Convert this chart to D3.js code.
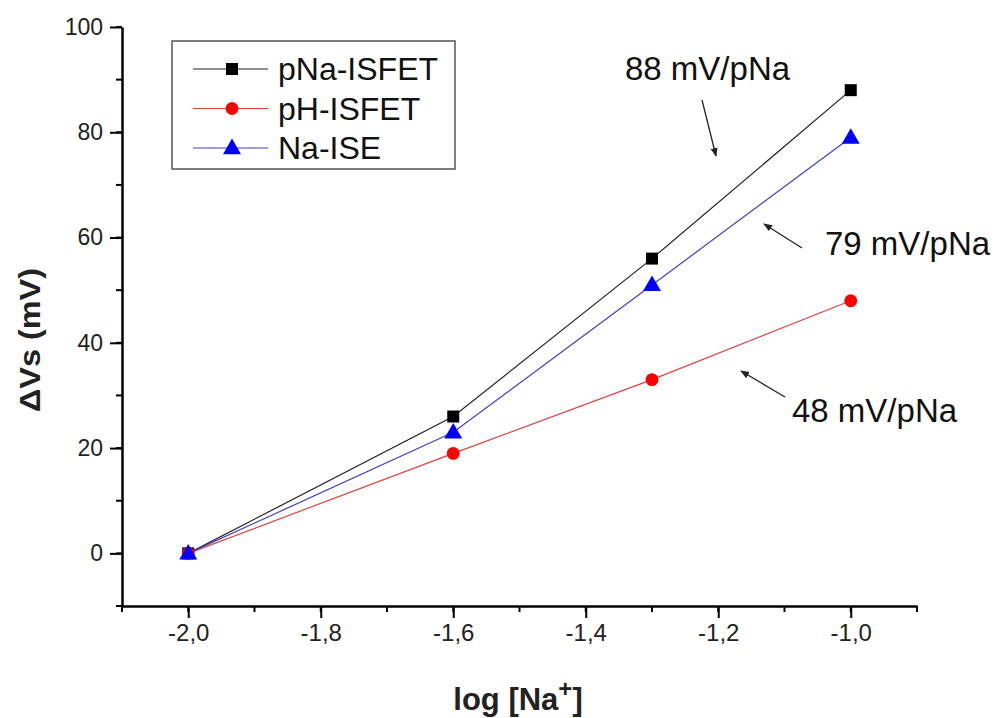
<!DOCTYPE html>
<html><head><meta charset="utf-8">
<script src="https://cdn.jsdelivr.net/npm/d3@7"></script>
<style>body{margin:0;background:#fff;} svg{display:block;font-family:"Liberation Sans",Arial,sans-serif;}</style>
</head><body>
<script>
const xValues = [-2.0, -1.6, -1.3, -1.0];
const seriesNames = ["pNa-ISFET", "pH-ISFET", "Na-ISE"];
const pNaISFET = [0, 26, 56, 88];
const pHISFET = [0, 19, 33, 48];
const NaISE = [0, 23, 51, 79];
const seriesColors = ["#000000", "#ff0000", "#0000ff"];
const lineColors = ["#222222", "#e04040", "#4040c0"];
const markerTypes = ["square", "circle", "triangle"];
const xTicks = [-2.0, -1.8, -1.6, -1.4, -1.2, -1.0];
const yTicks = [0, 20, 40, 60, 80, 100];
const annotations = [
  {text: "88 mV/pNa", x: 625, y: 80, ax1: 702, ay1: 100, ax2: 716, ay2: 156},
  {text: "79 mV/pNa", x: 825, y: 255, ax1: 802, ay1: 248, ax2: 764, ay2: 224},
  {text: "48 mV/pNa", x: 792, y: 422, ax1: 785, ay1: 397, ax2: 741, ay2: 371}
];

const W = 995, H = 718;
const svg = d3.select("body").append("svg").attr("width", W).attr("height", H);
const x = d3.scaleLinear().domain([-2.1, -0.9]).range([122, 917]);
const y = d3.scaleLinear().domain([-10, 100]).range([606, 27]);

const fmt = d => d3.format(".1f")(d).replace(".", ",").replace("−", "-");

// minor ticks
const xMinor = d3.range(-2.1, -0.89, 0.1);
const yMinor = d3.range(-10, 101, 10);
const axisG = svg.append("g");
axisG.selectAll(".xm").data(xMinor).enter().append("line")
  .attr("x1", d => x(d)).attr("x2", d => x(d)).attr("y1", 606).attr("y2", 612)
  .attr("stroke", "#000").attr("stroke-width", 2);
axisG.selectAll(".ym").data(yMinor).enter().append("line")
  .attr("x1", 116).attr("x2", 122).attr("y1", d => y(d)).attr("y2", d => y(d))
  .attr("stroke", "#000").attr("stroke-width", 2);

const xAxis = d3.axisBottom(x).tickValues(xTicks).tickSize(12).tickSizeOuter(0).tickPadding(6).tickFormat(fmt);
const gx = svg.append("g").attr("transform", "translate(0,606)").call(xAxis);
gx.attr("font-size", null).attr("font-family", null);
gx.select(".domain").attr("stroke-width", 2.5);
gx.selectAll(".tick line").attr("stroke-width", 2);
gx.selectAll("text").style("font-size", "24px").style("font-family", "'Liberation Sans', Arial, sans-serif").attr("fill", "#222");

const yAxis = d3.axisLeft(y).tickValues(yTicks).tickSize(12).tickSizeOuter(0).tickPadding(7);
const gy = svg.append("g").attr("transform", "translate(122,0)").call(yAxis);
gy.attr("font-size", null).attr("font-family", null);
gy.select(".domain").attr("stroke-width", 2.5);
gy.selectAll(".tick line").attr("stroke-width", 2);
gy.selectAll("text").style("font-size", "23px").style("font-family", "'Liberation Sans', Arial, sans-serif").attr("fill", "#222");

// titles
svg.append("text").attr("transform", "translate(40,340) rotate(-90)")
  .attr("text-anchor", "middle").attr("font-weight", "bold").attr("font-size", 30).attr("fill", "#222")
  .attr("textLength", 144).attr("lengthAdjust", "spacingAndGlyphs")
  .text("ΔVs (mV)");
const xt = svg.append("text").attr("x", 518).attr("y", 710).attr("text-anchor", "middle")
  .attr("font-weight", "bold").attr("font-size", 31).attr("fill", "#222");
xt.append("tspan").text("log [Na");
xt.append("tspan").attr("dy", -13).attr("font-size", 24).text("+");
xt.append("tspan").attr("dy", 13).text("]");

const allSeries = [pNaISFET, pHISFET, NaISE];
const symbolOf = {square: d3.symbolSquare, circle: d3.symbolCircle, triangle: d3.symbolTriangle};
const sizeOf = {square: 144, circle: 130, triangle: 140};

function marker(g, type, color, cx, cy) {
  g.append("path").attr("d", d3.symbol().type(symbolOf[type]).size(sizeOf[type])())
    .attr("transform", `translate(${cx},${cy + (type === "triangle" ? 1 : 0)})`).attr("fill", color);
}

const line = d3.line().x((d, i) => x(xValues[i])).y(d => y(d));
allSeries.forEach((vals, si) => {
  svg.append("path").datum(vals).attr("d", line).attr("fill", "none")
    .attr("stroke", lineColors[si]).attr("stroke-width", 1.2);
});
allSeries.forEach((vals, si) => {
  const g = svg.append("g");
  vals.forEach((v, i) => marker(g, markerTypes[si], seriesColors[si], x(xValues[i]), y(v)));
});

// legend
const lg = svg.append("g");
lg.append("rect").attr("x", 172).attr("y", 41).attr("width", 283).attr("height", 128)
  .attr("fill", "#fff").attr("stroke", "#555").attr("stroke-width", 1.5);
seriesNames.forEach((name, i) => {
  const ly = 69 + i * 39.5;
  lg.append("line").attr("x1", 193).attr("x2", 268).attr("y1", ly).attr("y2", ly)
    .attr("stroke", lineColors[i]).attr("stroke-width", 1.2);
  marker(lg, markerTypes[i], seriesColors[i], 232, ly);
  lg.append("text").attr("x", 278).attr("y", ly + 11).attr("font-size", 32).attr("fill", "#111").text(name);
});

// annotations
svg.append("defs").append("marker").attr("id", "arr").attr("viewBox", "0 0 10 10")
  .attr("refX", 9).attr("refY", 5).attr("markerWidth", 9).attr("markerHeight", 9)
  .attr("markerUnits", "userSpaceOnUse").attr("orient", "auto")
  .append("path").attr("d", "M0,1 L10,5 L0,9 Z").attr("fill", "#222");
annotations.forEach(a => {
  svg.append("text").attr("x", a.x).attr("y", a.y).attr("font-size", 33).attr("fill", "#111").text(a.text);
  svg.append("line").attr("x1", a.ax1).attr("y1", a.ay1).attr("x2", a.ax2).attr("y2", a.ay2)
    .attr("stroke", "#222").attr("stroke-width", 1.3).attr("marker-end", "url(#arr)");
});
</script>
</body></html>
